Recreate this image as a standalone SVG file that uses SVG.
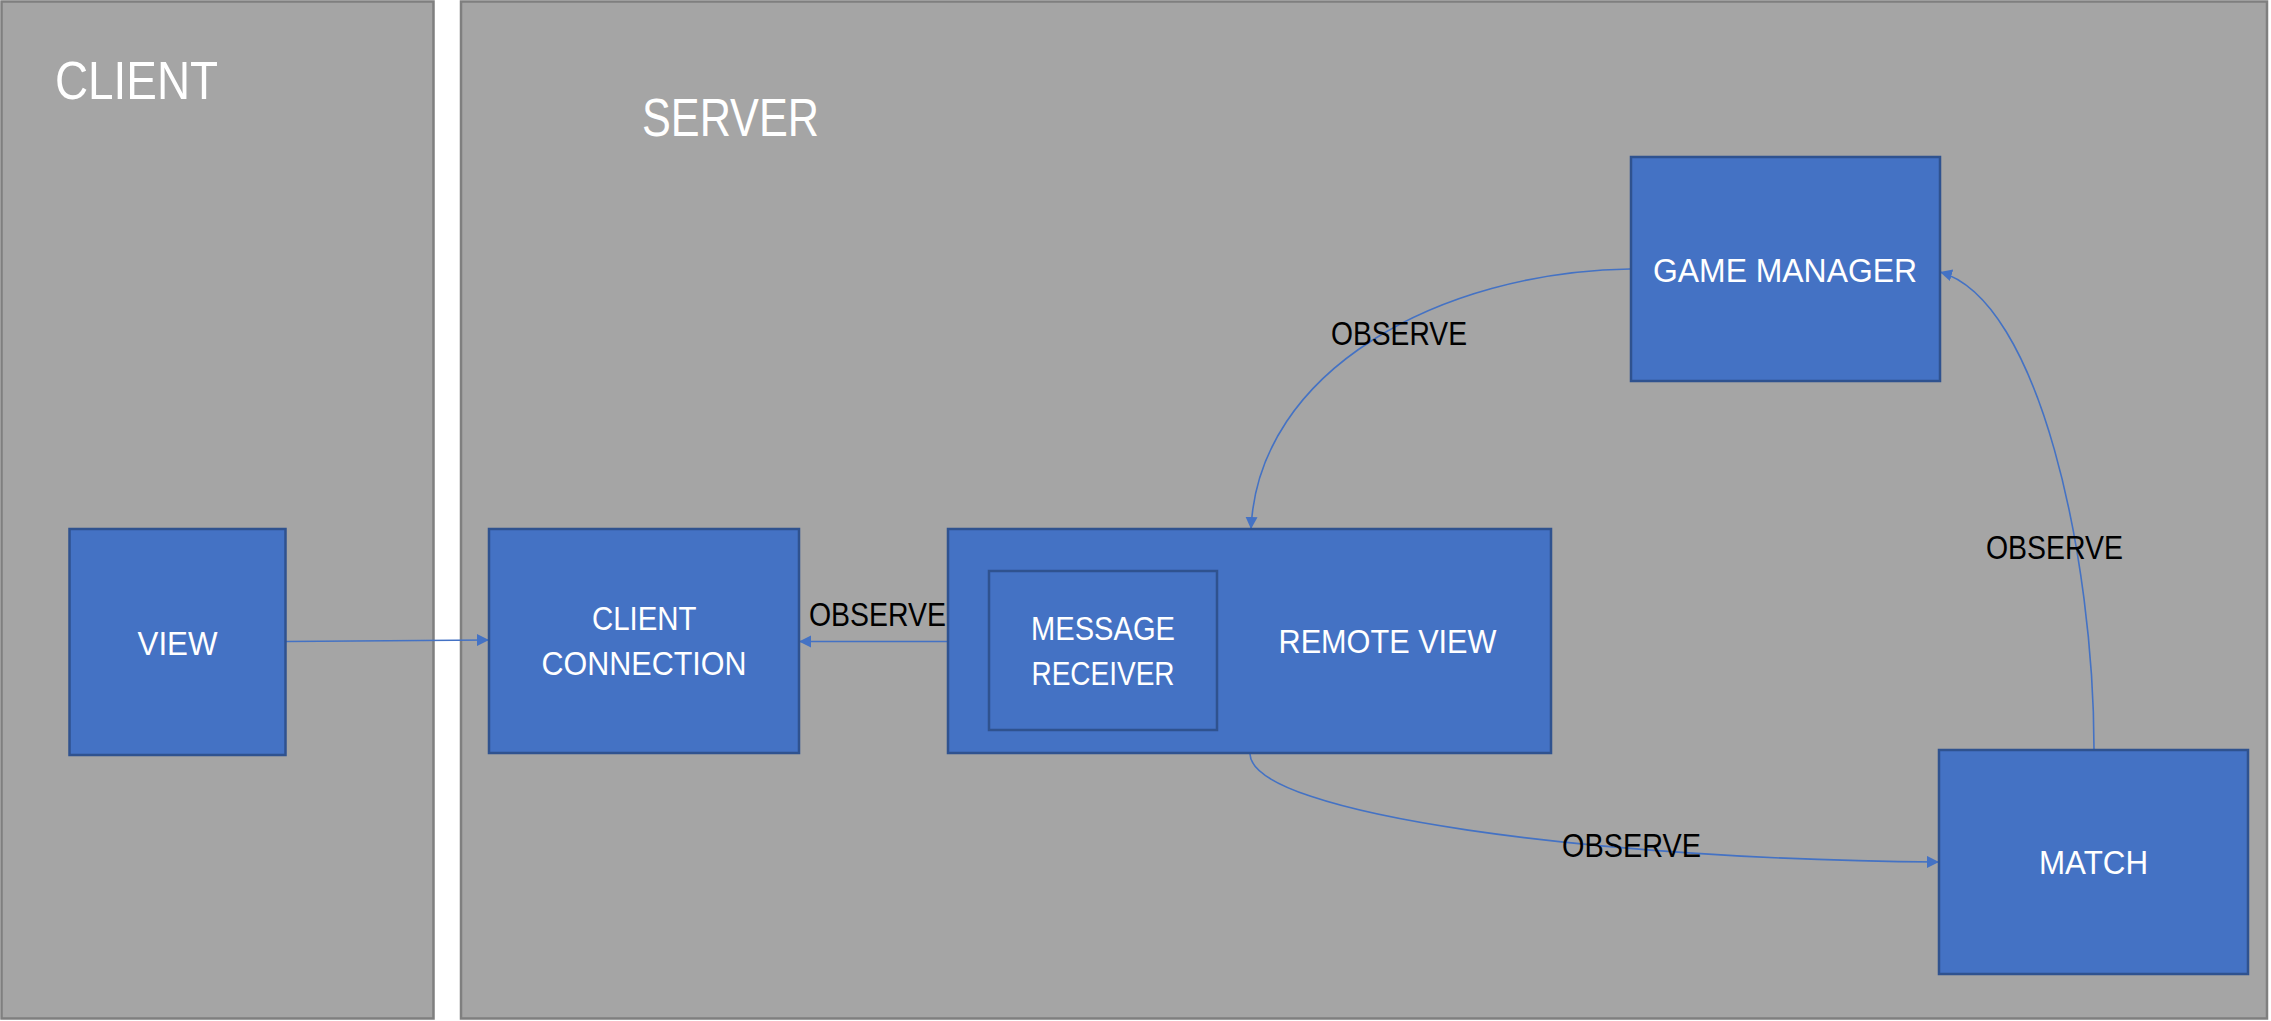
<svg xmlns="http://www.w3.org/2000/svg" width="2271" height="1021" viewBox="0 0 2271 1021">
  <style>
    .panel { fill: #A5A5A5; stroke: #7F7F7F; stroke-width: 2.5; }
    .box { fill: #4472C4; stroke: #2F528F; stroke-width: 2.5; }
    .title { font-family: "Liberation Sans", Arial, sans-serif; font-size: 53px; fill: #FFFFFF; }
    .lbl { font-family: "Liberation Sans", Arial, sans-serif; font-size: 33px; fill: #FFFFFF; }
    .edge-lbl { font-family: "Liberation Sans", Arial, sans-serif; font-size: 33px; fill: #000000; }
    .conn { fill: none; stroke: #4472C4; stroke-width: 1.6; }
  </style>
  <defs>
    <marker id="arrow" markerUnits="userSpaceOnUse" markerWidth="14" markerHeight="14" refX="12" refY="6" orient="auto">
      <path d="M0,0 L12,6 L0,12 z" fill="#4472C4"/>
    </marker>
  </defs>
  <rect width="2271" height="1021" fill="#FFFFFF"/>

  <g id="client-panel">
    <rect class="panel" x="1.5" y="1.5" width="432" height="1017"/>
    <text class="title" x="55" y="99" textLength="163" lengthAdjust="spacingAndGlyphs">CLIENT</text>
  </g>
  <g id="server-panel">
    <rect class="panel" x="461" y="1.5" width="1806" height="1017"/>
    <text class="title" x="642" y="136" textLength="177" lengthAdjust="spacingAndGlyphs">SERVER</text>
  </g>

  <g id="connectors">
    <path class="conn" d="M286,641.5 L489,640" marker-end="url(#arrow)"/>
    <path class="conn" d="M948,641.5 L799,641.5" marker-end="url(#arrow)"/>
    <path class="conn" d="M1630,269 C1440,272 1258,370 1251,529" marker-end="url(#arrow)"/>
    <path class="conn" d="M1250,754 C1252,815 1600,860 1939,862" marker-end="url(#arrow)"/>
    <path class="conn" d="M2094,749 C2094,560 2040,300 1940,272" marker-end="url(#arrow)"/>
    <text class="edge-lbl" x="809" y="626" textLength="137" lengthAdjust="spacingAndGlyphs">OBSERVE</text>
    <text class="edge-lbl" x="1331" y="345" textLength="136" lengthAdjust="spacingAndGlyphs">OBSERVE</text>
    <text class="edge-lbl" x="1986" y="559" textLength="137" lengthAdjust="spacingAndGlyphs">OBSERVE</text>
    <text class="edge-lbl" x="1562" y="857" textLength="139" lengthAdjust="spacingAndGlyphs">OBSERVE</text>
  </g>

  <g id="view">
    <rect class="box" x="69.5" y="529" width="216" height="226"/>
    <text class="lbl" x="137.5" y="655" textLength="80" lengthAdjust="spacingAndGlyphs">VIEW</text>
  </g>
  <g id="client-connection">
    <rect class="box" x="489" y="529" width="310" height="224"/>
    <text class="lbl" x="592" y="630" textLength="104.5" lengthAdjust="spacingAndGlyphs">CLIENT</text>
    <text class="lbl" x="541.5" y="675" textLength="205" lengthAdjust="spacingAndGlyphs">CONNECTION</text>
  </g>
  <g id="remote-view">
    <rect class="box" x="948" y="529" width="603" height="224"/>
    <text class="lbl" x="1278.5" y="653" textLength="218" lengthAdjust="spacingAndGlyphs">REMOTE VIEW</text>
  </g>
  <g id="message-receiver">
    <rect class="box" x="989" y="571" width="228" height="159"/>
    <text class="lbl" x="1031" y="640" textLength="144" lengthAdjust="spacingAndGlyphs">MESSAGE</text>
    <text class="lbl" x="1031.5" y="685" textLength="143" lengthAdjust="spacingAndGlyphs">RECEIVER</text>
  </g>
  <g id="game-manager">
    <rect class="box" x="1631" y="157" width="309" height="224"/>
    <text class="lbl" x="1653" y="282" textLength="264" lengthAdjust="spacingAndGlyphs">GAME MANAGER</text>
  </g>
  <g id="match">
    <rect class="box" x="1939" y="750" width="309" height="224"/>
    <text class="lbl" x="2039" y="874" textLength="109" lengthAdjust="spacingAndGlyphs">MATCH</text>
  </g>
</svg>
